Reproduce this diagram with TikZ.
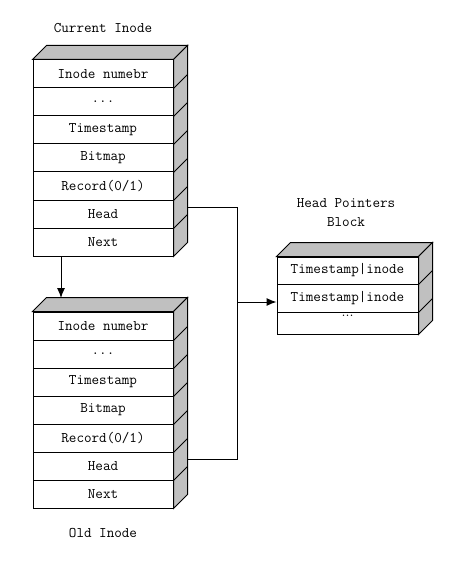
\documentclass[tikz,border=0pt]{standalone}
\usepackage{fontspec}
\usetikzlibrary{arrows.meta,calc}
\definecolor{sidegray}{RGB}{192,192,192}
\tikzset{
  cell/.style={draw, line width=1pt, minimum width=140pt, minimum height=28pt, inner sep=0pt, font=\ttfamily\fontsize{14.7}{14.7}\selectfont, anchor=center},
  hcell/.style={cell, minimum width=141pt},
  lbl/.style={font=\ttfamily\fontsize{14.7}{19}\selectfont, align=center, inner sep=0pt},
  conn/.style={line width=1pt},
  arr/.style={line width=1pt, -{Latex[length=10pt,width=8pt]}},
  face/.style={fill=sidegray, draw, line width=1pt, line join=miter},
}
\newcommand{\sidefaces}[3]{% top node, bottom node, list of nodes
  \filldraw[face] (#1.north west) -- ++(14,-14) -- ([shift={(14,-14)}]#1.north east) -- (#1.north east) -- cycle;
  \filldraw[face] (#1.north east) -- ([shift={(14,-14)}]#1.north east) -- ([shift={(14,-14)}]#2.south east) -- (#2.south east) -- cycle;
  \foreach \n in {#3} { \draw[line width=1pt] (\n.south east) -- ++(14,-14); }
}
\begin{document}
\begin{tikzpicture}[x=1pt,y=-1pt]
\useasboundingbox (0,0) rectangle (458,577);
% Current inode
\node[lbl] (curlbl) at (103,28) {Current Inode};
\node[cell] (c1) at (103,74) {Inode numebr};
\node[cell] (c2) at (103,102) {...};
\node[cell] (c3) at (103,130) {Timestamp};
\node[cell] (c4) at (103,158) {Bitmap};
\node[cell] (c5) at (103,186) {Record(0/1)};
\node[cell] (c6) at (103,214) {Head};
\node[cell] (c7) at (103,242) {Next};
\sidefaces{c1}{c7}{c1,c2,c3,c4,c5,c6}
% Old inode
\node[cell] (o1) at (103,326) {Inode numebr};
\node[cell] (o2) at (103,354) {...};
\node[cell] (o3) at (103,382) {Timestamp};
\node[cell] (o4) at (103,410) {Bitmap};
\node[cell] (o5) at (103,438) {Record(0/1)};
\node[cell] (o6) at (103,466) {Head};
\node[cell] (o7) at (103,494) {Next};
\sidefaces{o1}{o7}{o1,o2,o3,o4,o5,o6}
\node[lbl] (oldlbl) at (103,533) {Old Inode};
% Head pointers block
\node[lbl] (hplbl) at (346,213) {Head Pointers\\Block};
\node[hcell, minimum height=27pt] (h1) at (347.5,270.5) {Timestamp|inode};
\node[hcell, minimum height=28pt] (h2) at (347.5,298) {Timestamp|inode};
\node[hcell, minimum height=22pt] (h3) at (347.5,323) {};
\node[font=\fontsize{14.7}{14.7}\selectfont, inner sep=0pt] (h3dots) at (347.5,316) {...};
\sidefaces{h1}{h3}{h1,h2}
% connectors
\coordinate (chead) at ([shift={(14,-7)}]c6.east);
\coordinate (ohead) at ([shift={(14,-7)}]o6.east);
\coordinate (jn) at (237,302);
\coordinate (nextout) at (61,256);
\coordinate (oldtop) at (61,298);
\draw[conn] (chead) -| (jn);
\draw[conn] (ohead) -| (jn);
\draw[arr] (jn) -- (h2.west |- jn);
\draw[arr] (nextout) -- (oldtop);
\end{tikzpicture}
\end{document}
